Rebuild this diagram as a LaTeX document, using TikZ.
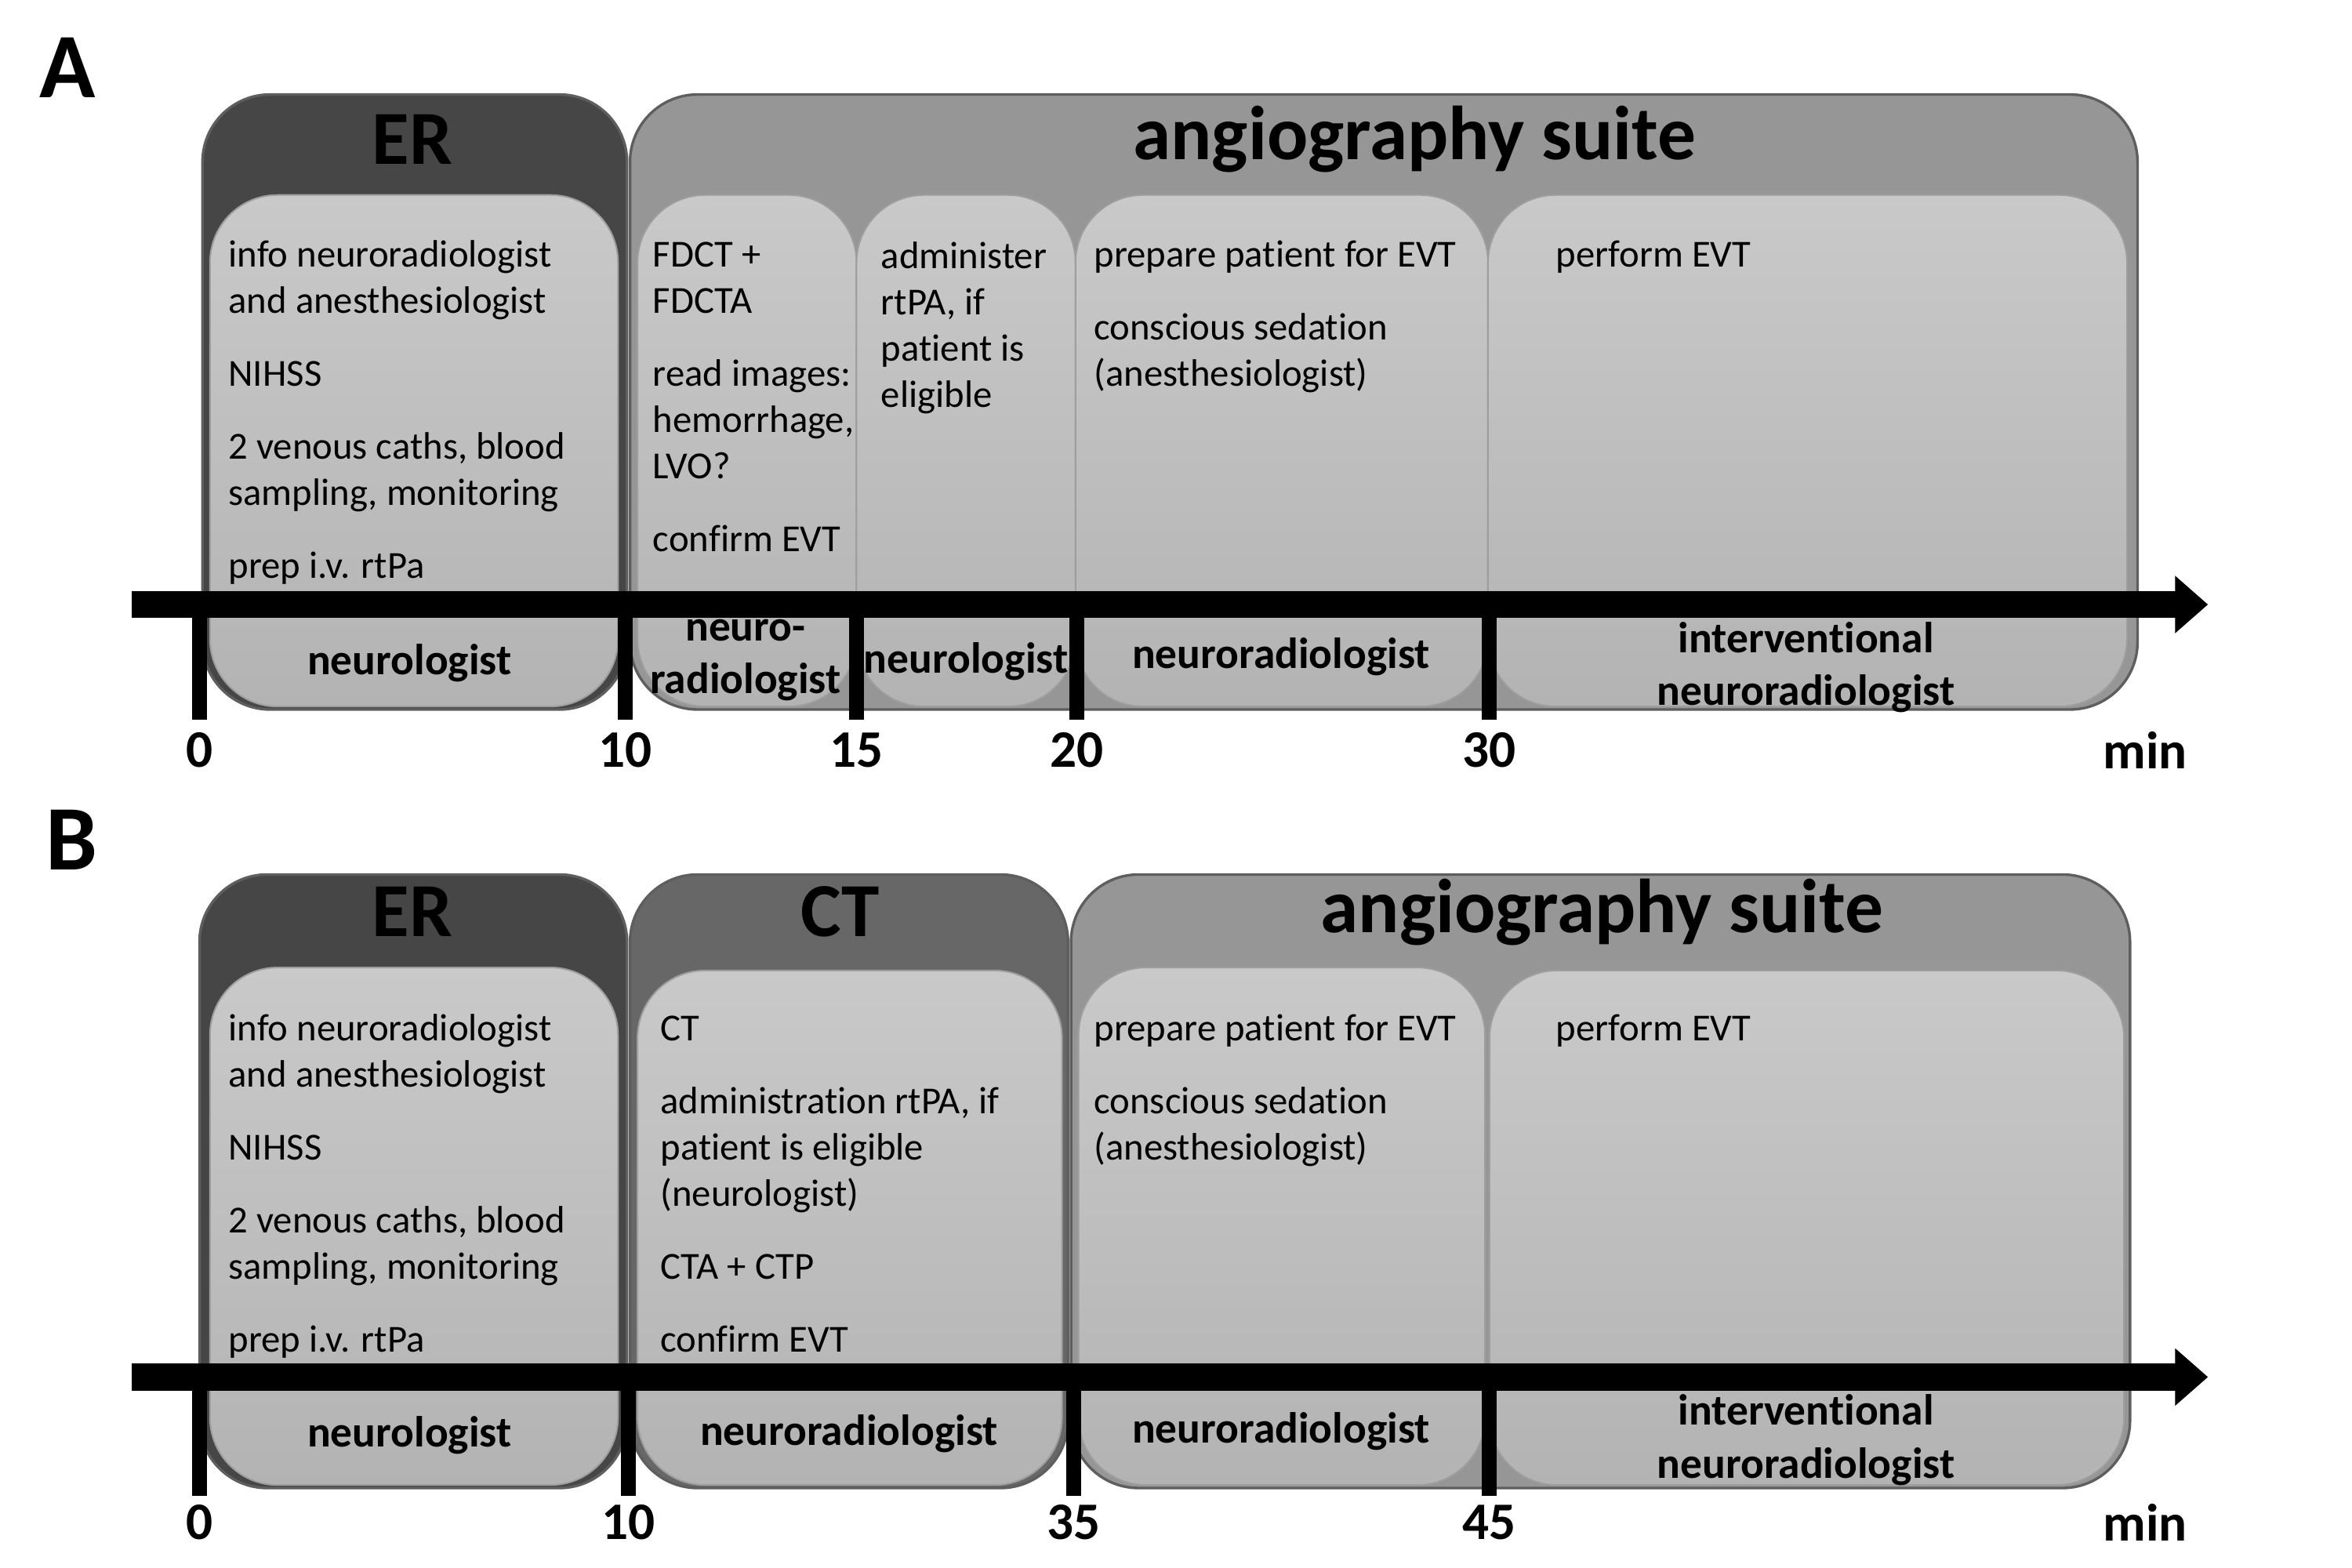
\documentclass[tikz,border=0pt]{standalone}
\usepackage{fontspec}
\setmainfont{Carlito}[Ligatures=NoCommon]
\usetikzlibrary{arrows.meta}
\definecolor{erfill}{HTML}{464646}
\definecolor{ctfill}{HTML}{676767}
\definecolor{angiofill}{HTML}{969696}
\definecolor{boxtop}{HTML}{C9C9C9}
\definecolor{boxbot}{HTML}{B3B3B3}
\definecolor{rimgray}{HTML}{5E5E5E}

\begin{document}
\begin{tikzpicture}[x=0.02cm,y=-0.02cm,line join=round,
  room/.style={draw=rimgray,line width=1pt,rounded corners=0.9cm},
  task/.style={draw=black!38,line width=0.6pt,top color=boxtop,
    bottom color=boxbot,rounded corners=0.9cm},
  roomname/.style={font=\fontsize{29}{33}\selectfont\bfseries},
  todo/.style={anchor=north west,inner sep=0pt,align=left,
    font=\fontsize{14.5}{17.6}\selectfont},
  who/.style={align=center,inner sep=0pt,font=\fontsize{16.5}{20}\selectfont\bfseries},
  minute/.style={inner sep=0pt,font=\fontsize{20}{24}\selectfont\bfseries},
  panel/.style={font=\fontsize{35}{40}\selectfont\bfseries},
  tickbar/.style={line width=0.2cm},
  timeline/.style={line width=0.36cm,-{Triangle[length=0.44cm,width=0.74cm]}}]
\path[use as bounding box] (0,0) rectangle (1568,1045);
\fill[white] (0,0) rectangle (1568,1045);

% Panel A: everything after the ER happens in the angiography suite.
\node[panel] (panelA) at (45,45) {A};
\filldraw[room,fill=erfill] (135,63) rectangle (418,473);
\filldraw[room,fill=angiofill] (420,63) rectangle (1425,473);
\shade[task] (140,130) rectangle (412,471);
\shade[task] (425,130) rectangle (571,471);
\shade[task] (571,130) rectangle (717,471);
\shade[task] (717,130) rectangle (992,471);
\shade[task] (992,130) rectangle (1418,471);
\node[roomname] (erA) at (275,93) {ER};
\node[roomname] (angioA) at (943,93) {angiography suite};

\node[todo] (erAtodo) at (152,156) {\strut info neuroradiologist\\and anesthesiologist\\[10pt]
  NIHSS\\[10pt]2 venous caths, blood\\sampling, monitoring\\[10pt]prep i.v. rtPa};
\node[todo] (fdctA) at (435,156) {\strut FDCT +\\FDCTA\\[10pt]read images:\\hemorrhage,\\LVO?\\[10pt]
  confirm EVT};
\node[todo] (rtpaA) at (587,157) {\strut administer\\rtPA, if\\patient is\\eligible};
\node[todo] (prepA) at (729,156) {\strut prepare patient for EVT\\[10pt]conscious sedation\\
  (anesthesiologist)};
\node[todo] (evtA) at (1037,156) {\strut perform EVT};

\coordinate (lineA0) at (88,403);
\coordinate (lineA1) at (1472,403);
\draw[timeline] (lineA0) -- (lineA1);
\foreach \x/\m in {133/0,417/10,571/15,718/20,993/30}{
  \draw[tickbar] (\x,403) -- (\x,480);
  \node[minute] (minA\m) at (\x,500) {\m};}
\node[minute] (unitA) at (1430,500) {min};

\node[who] (whoA1) at (273,442) {neurologist};
\node[who] (whoA2) at (497,440) {neuro-\\radiologist};
\node[who] (whoA3) at (644,441) {neurologist};
\node[who] (whoA4) at (854,438) {neuroradiologist};
\node[who] (whoA5) at (1204,445) {interventional\\neuroradiologist};

% Panel B: imaging is done in the CT room first.
\node[panel] (panelB) at (48,560) {B};
\filldraw[room,fill=erfill] (133,583) rectangle (418,992);
\filldraw[room,fill=ctfill] (420,583) rectangle (712,992);
\filldraw[room,fill=angiofill] (714,583) rectangle (1420,992);
\shade[task] (140,645) rectangle (412,990);
\shade[task] (425,647) rectangle (708,990);
\shade[task] (719,645) rectangle (990,990);
\shade[task] (993,647) rectangle (1416,990);
\node[roomname] (erB) at (275,608) {ER};
\node[roomname] (ctB) at (560,608) {CT};
\node[roomname] (angioB) at (1068,608) {angiography suite};

\node[todo] (erBtodo) at (152,672) {\strut info neuroradiologist\\and anesthesiologist\\[10pt]
  NIHSS\\[10pt]2 venous caths, blood\\sampling, monitoring\\[10pt]prep i.v. rtPa};
\node[todo] (ctBtodo) at (440,672) {\strut CT\\[10pt]administration rtPA, if\\
  patient is eligible\\(neurologist)\\[10pt]CTA + CTP\\[10pt]confirm EVT};
\node[todo] (prepB) at (729,672) {\strut prepare patient for EVT\\[10pt]conscious sedation\\
  (anesthesiologist)};
\node[todo] (evtB) at (1037,672) {\strut perform EVT};

\coordinate (lineB0) at (88,918);
\coordinate (lineB1) at (1472,918);
\draw[timeline] (lineB0) -- (lineB1);
\foreach \x/\m in {133/0,419/10,716/35,993/45}{
  \draw[tickbar] (\x,918) -- (\x,997);
  \node[minute] (minB\m) at (\x,1015) {\m};}
\node[minute] (unitB) at (1430,1015) {min};

\node[who] (whoB1) at (273,957) {neurologist};
\node[who] (whoB2) at (566,956) {neuroradiologist};
\node[who] (whoB3) at (854,954) {neuroradiologist};
\node[who] (whoB4) at (1204,960) {interventional\\neuroradiologist};
\end{tikzpicture}
\end{document}
